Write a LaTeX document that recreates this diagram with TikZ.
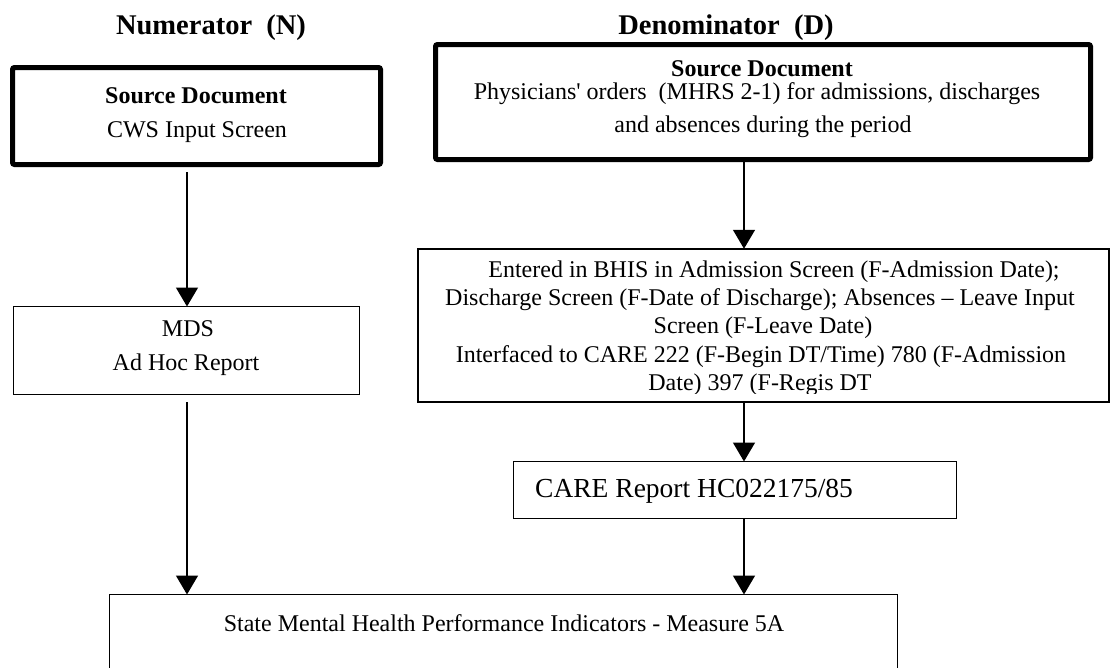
\documentclass[tikz,border=0pt]{standalone}
\usepackage{fontspec}
\setmainfont{Liberation Serif}
\usetikzlibrary{arrows.meta}
\begin{document}
\begin{tikzpicture}[x=1pt,y=-1pt,
  thickbox/.style={draw, line width=5pt, rounded corners=2pt, inner sep=0pt, outer sep=0pt, anchor=north west},
  thinbox/.style={draw, line width=1.5pt, inner sep=0pt, outer sep=0pt, anchor=north west},
  txt/.style={anchor=base, inner sep=0pt, font=\fontsize{24}{28}\selectfont},
  btxt/.style={anchor=base, inner sep=0pt, font=\fontsize{24}{28}\selectfont\bfseries},
  ttl/.style={anchor=base, inner sep=0pt, font=\fontsize{28.5}{32}\selectfont\bfseries},
  arr/.style={line width=1.5pt, -{Triangle[width=22pt,length=19pt]}}]
\useasboundingbox (0,0) rectangle (1111,667);

% titles
\node[ttl] (tn) at (211,34) {Numerator\ \ (N)};
\node[ttl] (td) at (726,34) {Denominator\ \ (D)};

% boxes
\node[thickbox, minimum width=368pt, minimum height=97pt] (lsrc) at (12.5,67.5) {};
\node[thickbox, minimum width=655pt, minimum height=115pt] (rsrc) at (435.5,44.5) {};
\node[thinbox, minimum width=346pt, minimum height=88pt] (mds) at (13.5,306.5) {};
\node[thinbox, minimum width=691pt, minimum height=153pt] (ent) at (417.75,248.75) {};
\node[thinbox, minimum width=443pt, minimum height=57pt] (care) at (513.5,461.5) {};
\node[thinbox, minimum width=788pt, minimum height=120pt] (smh) at (109.5,594.5) {};

% texts
\node[btxt] (l1) at (196,103) {Source Document};
\node[txt] (l2) at (197,137) {CWS Input Screen};

\node[btxt] (r1) at (762,76) {Source Document};
\node[txt] (r2) at (757,99) {Physicians\textquotesingle\ orders\ \ (MHRS 2-1) for admissions, discharges};
\node[txt] (r3) at (763,132) {and absences during the period};

\node[txt] (m1) at (188,336) {MDS};
\node[txt] (m2) at (186,370) {Ad Hoc Report};

\node[txt] (e1) at (774,277) {Entered in BHIS in Admission Screen (F-Admission Date);};
\node[txt] (e2) at (760,305) {Discharge Screen (F-Date of Discharge); Absences – Leave Input};
\node[txt] (e3) at (763,333) {Screen (F-Leave Date)};
\node[txt] (e4) at (761,362) {Interfaced to CARE 222 (F-Begin DT/Time) 780 (F-Admission};
\begin{scope}
\clip (417,248) rectangle (1109,393);
\node[txt] (e5) at (760,390) {Date) 397 (F-Regis DT};
\end{scope}

\node[txt, anchor=base west, font=\fontsize{27.5}{32}\selectfont] (c1) at (535,497) {CARE Report HC022175/85};

\node[txt] (s1) at (504,631) {State Mental Health Performance Indicators - Measure 5A};

% arrows
\coordinate (lx) at (187,0);
\coordinate (rx) at (744,0);
\draw[arr] ([yshift=-7.5pt]lsrc.south -| lx) -- (mds.north -| lx);
\draw[arr] ([yshift=-7.5pt]mds.south -| lx) -- (smh.north -| lx);
\draw[arr] (rsrc.south -| rx) -- (ent.north -| rx);
\draw[arr] (ent.south -| rx) -- (care.north -| rx);
\draw[arr] (care.south -| rx) -- (smh.north -| rx);
\end{tikzpicture}
\end{document}
